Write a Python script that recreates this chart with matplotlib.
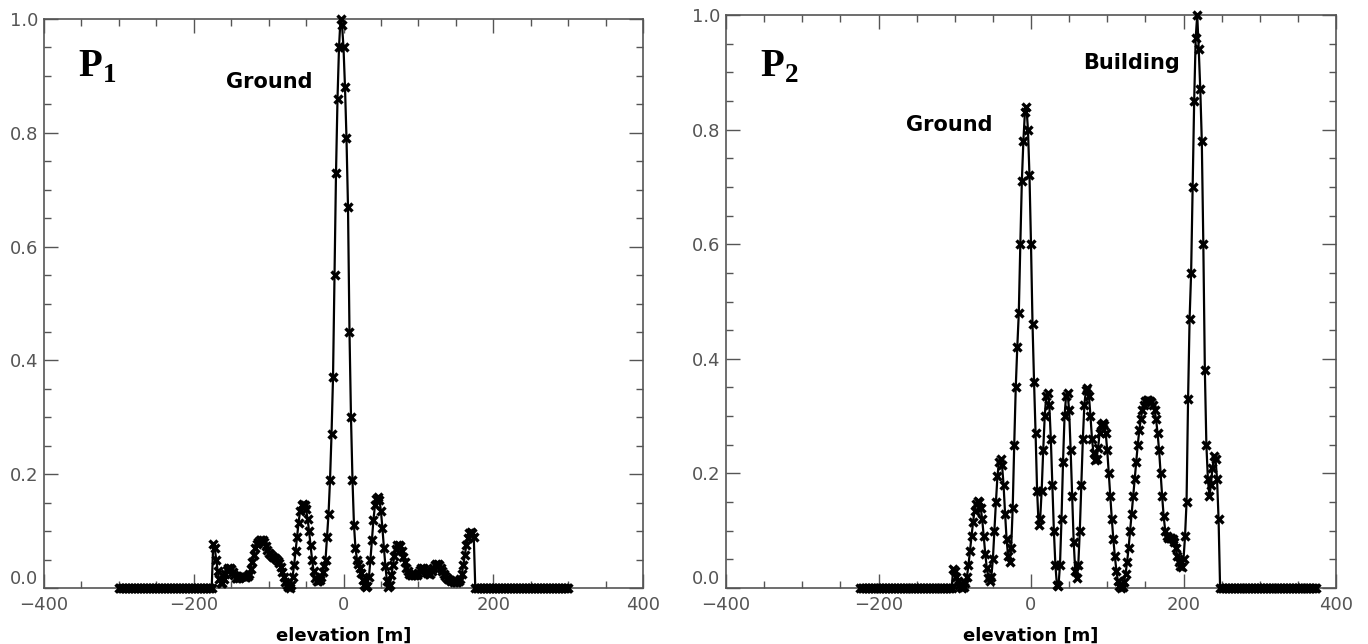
import numpy as np
import matplotlib
matplotlib.use("Agg")
import matplotlib.pyplot as plt
from matplotlib.ticker import MultipleLocator

# sample grid spacing of the profiles (m)
step = 2

# P1 profile: zeros from -300 to -176, values from -174 to 174, zeros from 176 to 300
p1_start = -300
p1_lead_zeros = [0.0] * 63
p1_values = [
    0.078, 0.070, 0.050, 0.030, 0.015, 0.008, 0.008, 0.015, 0.025, 0.032,  # -174
    0.035, 0.035, 0.033, 0.028, 0.022, 0.018, 0.017, 0.017, 0.019, 0.021,  # -154
    0.021, 0.020, 0.020, 0.021, 0.025, 0.033, 0.045, 0.058, 0.070, 0.078,  # -134
    0.081, 0.084, 0.085, 0.084, 0.080, 0.074, 0.067, 0.062, 0.059, 0.057,  # -114
    0.055, 0.053, 0.051, 0.048, 0.044, 0.037, 0.028, 0.019, 0.011, 0.005,  # -94
    0.001, 0.000, 0.006, 0.020, 0.040, 0.065, 0.090, 0.115, 0.135, 0.145,  # -74
    0.148, 0.146, 0.138, 0.122, 0.100, 0.075, 0.050, 0.030, 0.018, 0.013,  # -54
    0.012, 0.014, 0.020, 0.028, 0.038, 0.050, 0.090, 0.130, 0.190, 0.270,  # -34
    0.370, 0.550, 0.730, 0.860, 0.950, 1.000, 0.990, 0.950, 0.880, 0.790,  # -14
    0.670, 0.450, 0.300, 0.190, 0.110, 0.070, 0.050, 0.042, 0.035, 0.026,  # 6
    0.014, 0.005, 0.001, 0.004, 0.020, 0.050, 0.085, 0.120, 0.145, 0.157,  # 26
    0.160, 0.155, 0.135, 0.105, 0.070, 0.038, 0.012, 0.001, 0.006, 0.022,  # 46
    0.040, 0.057, 0.069, 0.075, 0.076, 0.073, 0.065, 0.055, 0.045, 0.036,  # 66
    0.029, 0.025, 0.023, 0.022, 0.022, 0.023, 0.023, 0.026, 0.031, 0.035,  # 86
    0.036, 0.034, 0.030, 0.026, 0.024, 0.025, 0.030, 0.036, 0.040, 0.042,  # 106
    0.042, 0.040, 0.035, 0.030, 0.025, 0.021, 0.018, 0.016, 0.014, 0.013,  # 126
    0.012, 0.011, 0.011, 0.011, 0.012, 0.015, 0.025, 0.040, 0.058, 0.075,  # 146
    0.088, 0.096, 0.099, 0.097, 0.090,                                     # 166
]
p1_trail_zeros = [0.0] * 63

# P2 profile: zeros from -224 to -104, values from -102 to 246, zeros from 248 to 374
p2_start = -224
p2_lead_zeros = [0.0] * 61
p2_values = [
    0.034, 0.030, 0.020, 0.012, 0.006, 0.002, 0.000, 0.001, 0.008, 0.020,  # -102
    0.040, 0.065, 0.090, 0.115, 0.135, 0.147, 0.151, 0.150, 0.140, 0.120,  # -82
    0.090, 0.060, 0.035, 0.018, 0.012, 0.020, 0.050, 0.100, 0.150, 0.195,  # -62
    0.220, 0.226, 0.215, 0.180, 0.130, 0.085, 0.055, 0.046, 0.070, 0.140,  # -42
    0.250, 0.350, 0.420, 0.480, 0.600, 0.710, 0.780, 0.830, 0.840, 0.800,  # -22
    0.720, 0.600, 0.460, 0.360, 0.270, 0.170, 0.110, 0.120, 0.170, 0.240,  # -2
    0.300, 0.335, 0.340, 0.320, 0.260, 0.180, 0.100, 0.040, 0.005, 0.003,  # 18
    0.040, 0.120, 0.220, 0.300, 0.335, 0.340, 0.310, 0.240, 0.160, 0.080,  # 38
    0.030, 0.017, 0.040, 0.100, 0.180, 0.260, 0.320, 0.345, 0.349, 0.335,  # 58
    0.300, 0.260, 0.235, 0.224, 0.225, 0.245, 0.270, 0.285, 0.288, 0.285,  # 78
    0.270, 0.240, 0.200, 0.160, 0.120, 0.085, 0.055, 0.030, 0.012, 0.003,  # 98
    0.000, 0.002, 0.010, 0.025, 0.045, 0.070, 0.100, 0.130, 0.160, 0.190,  # 118
    0.220, 0.250, 0.275, 0.295, 0.310, 0.320, 0.326, 0.328, 0.328, 0.327,  # 138
    0.325, 0.320, 0.310, 0.295, 0.270, 0.240, 0.200, 0.160, 0.125, 0.100,  # 158
    0.090, 0.088, 0.088, 0.087, 0.085, 0.080, 0.070, 0.055, 0.045, 0.038,  # 178
    0.037, 0.050, 0.090, 0.150, 0.330, 0.470, 0.550, 0.700, 0.850, 0.960,  # 198
    1.000, 0.940, 0.870, 0.780, 0.600, 0.380, 0.250, 0.190, 0.160, 0.180,  # 218
    0.210, 0.230, 0.225, 0.190, 0.120,                                     # 238
]
p2_trail_zeros = [0.0] * 64

xticks = [-400, -200, 0, 200, 400]
yticks = [0.0, 0.2, 0.4, 0.6, 0.8, 1.0]

plt.rcParams["mathtext.fontset"] = "custom"
plt.rcParams["mathtext.bf"] = "Liberation Serif:bold"
plt.rcParams["mathtext.rm"] = "Liberation Serif:bold"

axis_grey = "#555555"

fig = plt.figure(figsize=(13.68, 6.44), dpi=100)
fig.patch.set_facecolor("white")

ax1 = fig.add_axes([44 / 1368, 56 / 644, 599 / 1368, 569 / 644])
ax2 = fig.add_axes([726 / 1368, 56 / 644, 610 / 1368, 573 / 644])


def profile(start, lead, vals, trail):
    y = np.array(lead + vals + trail)
    x = start + step * np.arange(len(y))
    return x, y


def style(ax):
    ax.set_xlim(-400, 400)
    ax.set_ylim(0, 1)
    ax.set_xticks(xticks)
    ax.set_yticks(yticks)
    ax.xaxis.set_minor_locator(MultipleLocator(50))
    ax.yaxis.set_minor_locator(MultipleLocator(0.05))
    ax.tick_params(which="both", direction="in", top=True, right=True,
                   color=axis_grey, width=1)
    ax.tick_params(which="major", length=10, labelsize=13, labelcolor="#555555")
    ax.tick_params(axis="x", which="major", pad=6)
    ax.tick_params(axis="y", which="major", pad=4)
    ax.tick_params(which="minor", length=5)
    ax.set_xticklabels(["\u2212400", "\u2212200", "0", "200", "400"])
    ax.set_yticklabels([f"{v:.1f}" for v in yticks])
    # the 0.0 label sits a bit above the corner, as in the original
    ax.get_yticklabels()[0].set_va("bottom")
    for sp in ax.spines.values():
        sp.set_color(axis_grey)
        sp.set_linewidth(1.2)
    ax.set_xlabel("elevation [m]", fontsize=13, fontweight="bold",
                  family="DejaVu Sans", labelpad=9)


x1, y1 = profile(p1_start, p1_lead_zeros, p1_values, p1_trail_zeros)
x2, y2 = profile(p2_start, p2_lead_zeros, p2_values, p2_trail_zeros)

for ax, x, y in [(ax1, x1, y1), (ax2, x2, y2)]:
    ax.plot(x, y, color="black", lw=1.6, marker="x", ms=5.5, mew=2.4,
            clip_on=False, zorder=3)
    style(ax)

ax1.text(0.057, 0.898, r"$\mathbf{P}_\mathbf{1}$", transform=ax1.transAxes,
         fontsize=28, va="baseline", ha="left")
ax2.text(0.056, 0.892, r"$\mathbf{P}_\mathbf{2}$", transform=ax2.transAxes,
         fontsize=28, va="baseline", ha="left")

ax1.text(-157, 0.889, "Ground", fontsize=15, fontweight="bold", va="center", ha="left")
ax2.text(-164, 0.808, "Ground", fontsize=15, fontweight="bold", va="center", ha="left")
ax2.text(68, 0.916, "Building", fontsize=15, fontweight="bold", va="center", ha="left")

fig.savefig("out.png", dpi=100)
